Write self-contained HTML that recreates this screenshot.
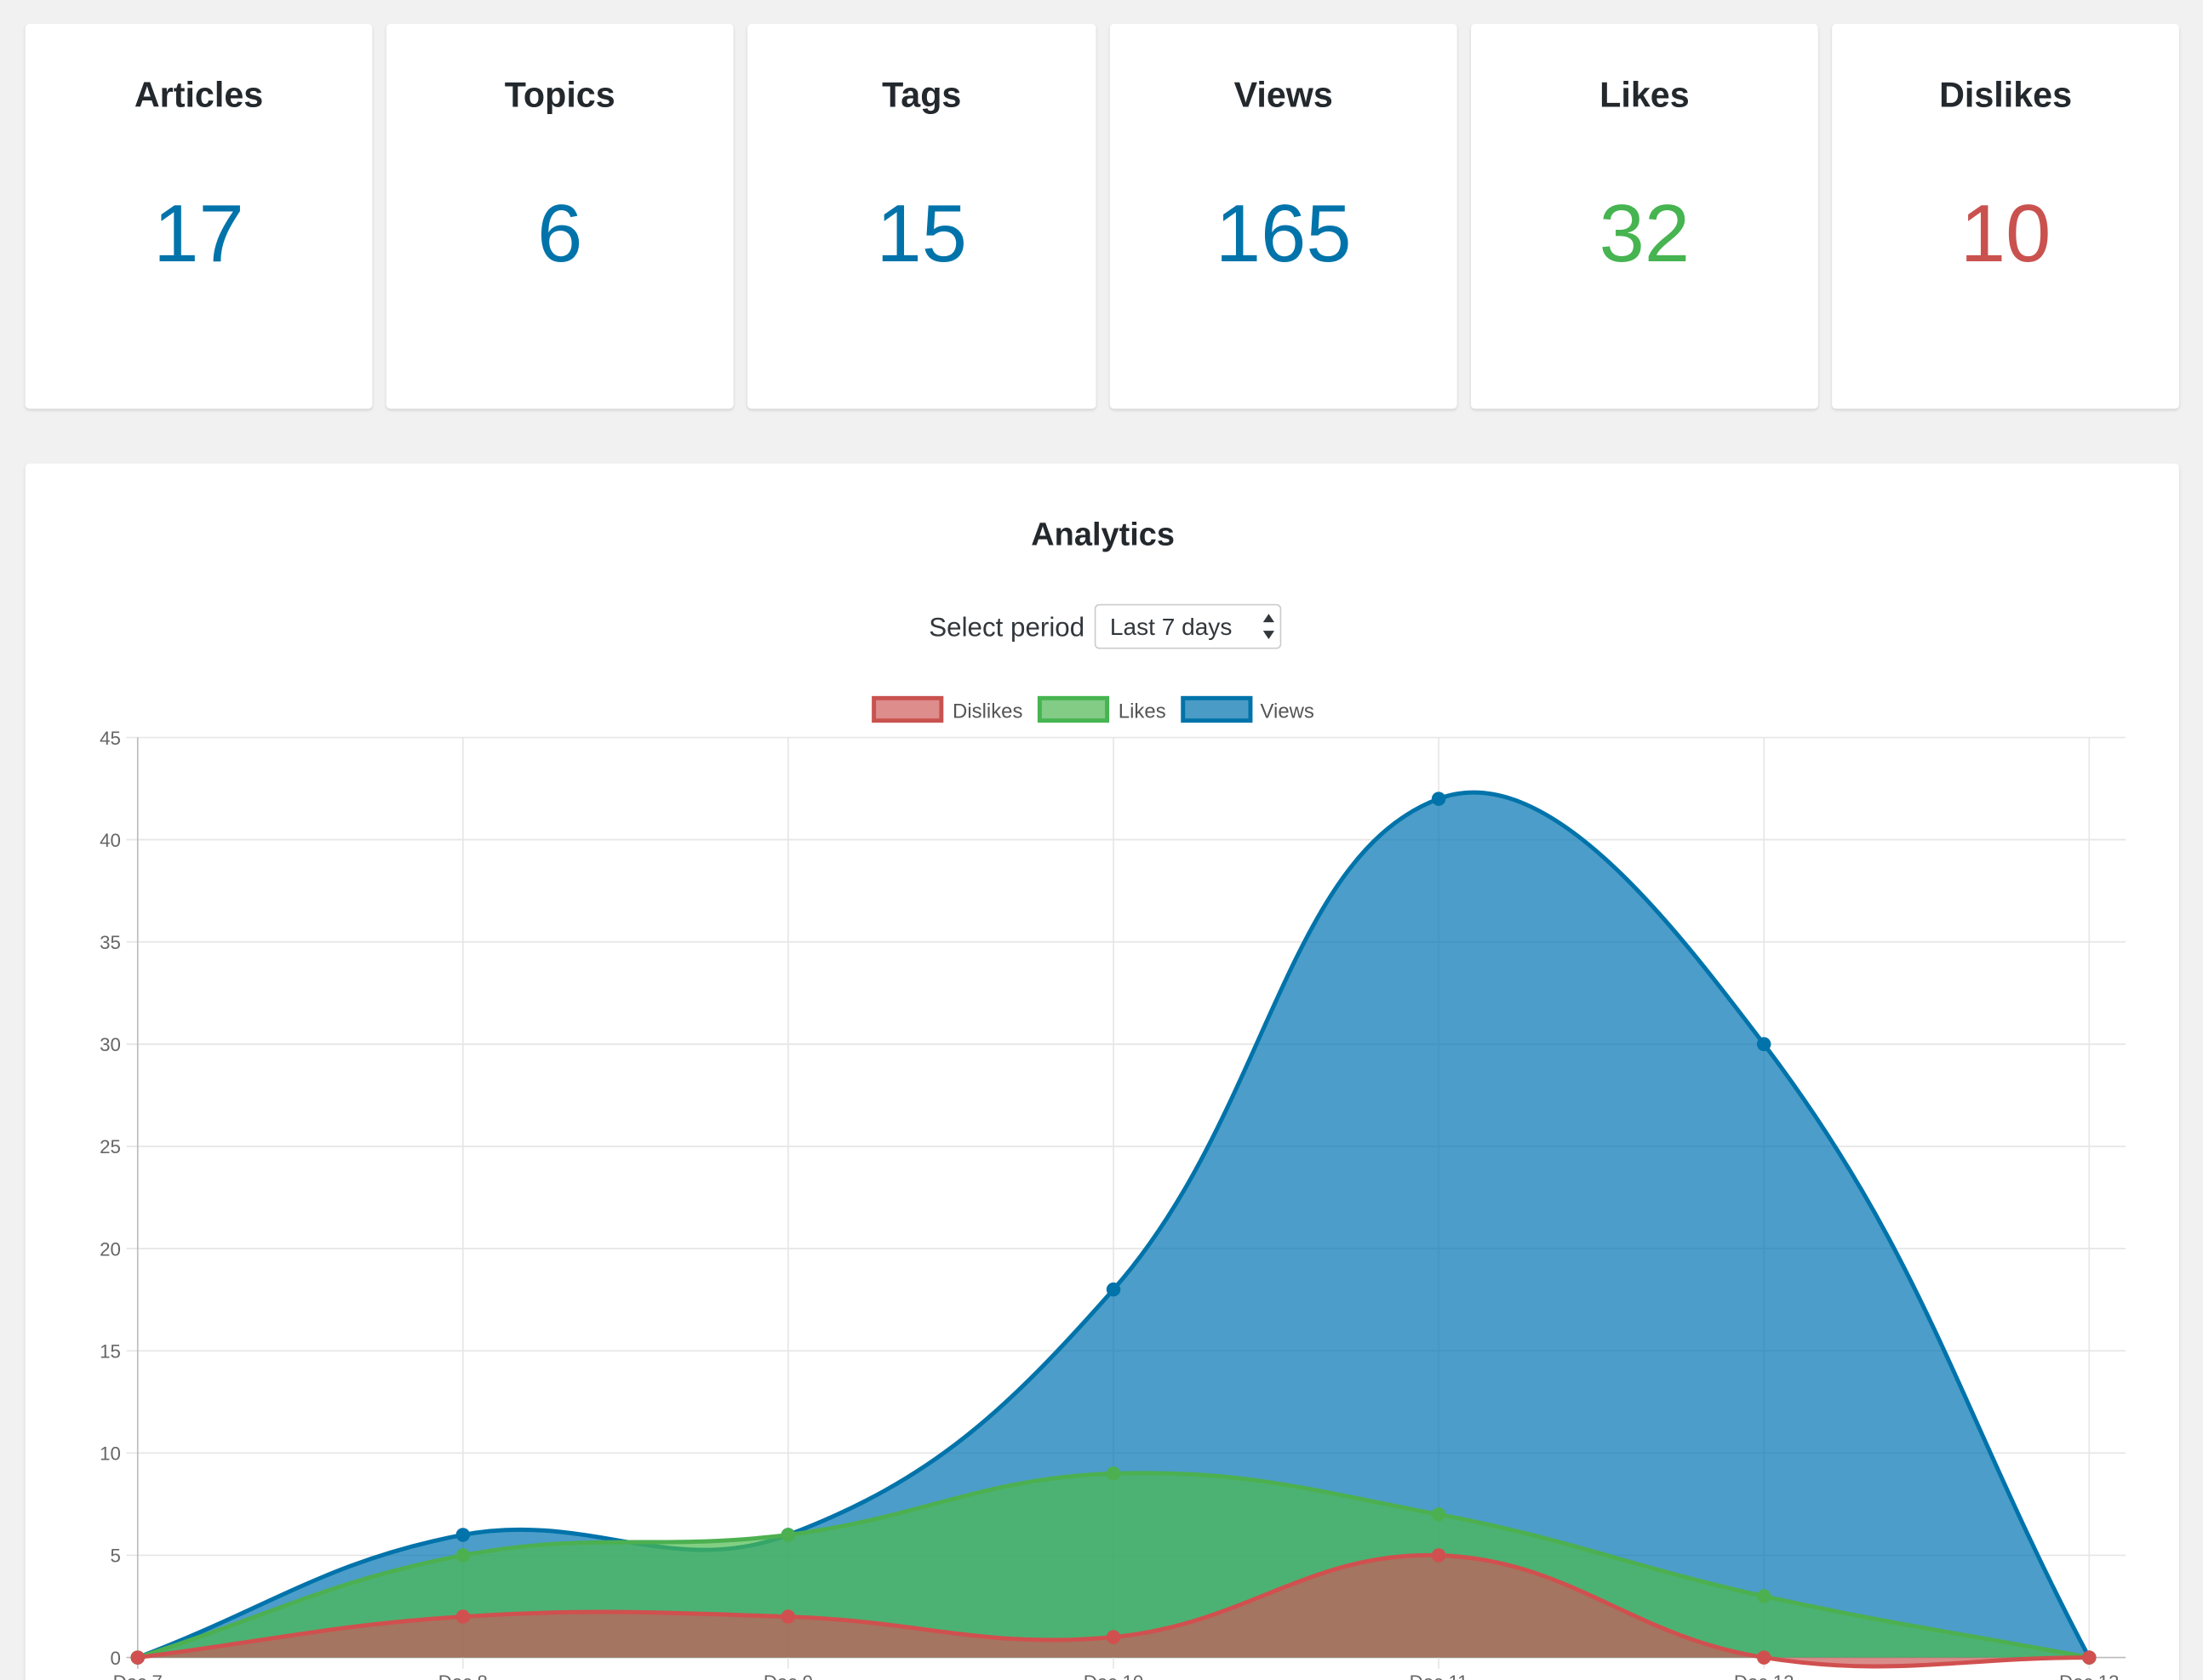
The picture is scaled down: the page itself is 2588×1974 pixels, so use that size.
<!DOCTYPE html>
<html><head><meta charset="utf-8"><style>
html,body{margin:0;padding:0;background:#f1f1f1;}
svg{display:block;font-family:"Liberation Sans",Arial,sans-serif;}
</style></head><body>
<svg id="root" width="2588" height="1974" viewBox="0 0 1568 1196" xmlns="http://www.w3.org/2000/svg">
<defs><filter id="sh" x="-5%" y="-5%" width="110%" height="110%"><feDropShadow dx="0" dy="1" stdDeviation="1" flood-color="#000" flood-opacity="0.15"/></filter></defs>
<rect x="0" y="0" width="1568" height="1196" fill="#f1f1f1"/>
<g><rect x="18" y="17" width="247" height="274" rx="3" fill="#fff" filter="url(#sh)"/><text x="141.5" y="76" text-anchor="middle" font-size="25" font-weight="bold" fill="#23282d">Articles</text><text x="141.5" y="186" text-anchor="middle" font-size="58" fill="#0073aa">17</text></g>
<g><rect x="275" y="17" width="247" height="274" rx="3" fill="#fff" filter="url(#sh)"/><text x="398.5" y="76" text-anchor="middle" font-size="25" font-weight="bold" fill="#23282d">Topics</text><text x="398.5" y="186" text-anchor="middle" font-size="58" fill="#0073aa">6</text></g>
<g><rect x="532" y="17" width="248" height="274" rx="3" fill="#fff" filter="url(#sh)"/><text x="656" y="76" text-anchor="middle" font-size="25" font-weight="bold" fill="#23282d">Tags</text><text x="656" y="186" text-anchor="middle" font-size="58" fill="#0073aa">15</text></g>
<g><rect x="790" y="17" width="247" height="274" rx="3" fill="#fff" filter="url(#sh)"/><text x="913.5" y="76" text-anchor="middle" font-size="25" font-weight="bold" fill="#23282d">Views</text><text x="913.5" y="186" text-anchor="middle" font-size="58" fill="#0073aa">165</text></g>
<g><rect x="1047" y="17" width="247" height="274" rx="3" fill="#fff" filter="url(#sh)"/><text x="1170.5" y="76" text-anchor="middle" font-size="25" font-weight="bold" fill="#23282d">Likes</text><text x="1170.5" y="186" text-anchor="middle" font-size="58" fill="#46b450">32</text></g>
<g><rect x="1304" y="17" width="247" height="274" rx="3" fill="#fff" filter="url(#sh)"/><text x="1427.5" y="76" text-anchor="middle" font-size="25" font-weight="bold" fill="#23282d">Dislikes</text><text x="1427.5" y="186" text-anchor="middle" font-size="58" fill="#c9524f">10</text></g>
<rect x="18" y="330" width="1533" height="900" rx="3" fill="#fff" filter="url(#sh)"/>
<text x="785" y="388" text-anchor="middle" font-size="23" font-weight="bold" fill="#23282d">Analytics</text>
<text x="772" y="453" text-anchor="end" font-size="19" fill="#32373c">Select period</text>
<g><rect x="779.5" y="430.5" width="132" height="31" rx="3" fill="#fff" stroke="#ccc"/><text x="790" y="452" font-size="17" fill="#32373c">Last 7 days</text><path d="M899 443 L903 437 L907 443 Z M899 449 L903 455 L907 449 Z" fill="#32373c"/></g>
<g>
<g><rect x="622" y="497" width="48" height="16" fill="#dc8d8c" stroke="#c9524f" stroke-width="3"/><text x="678" y="511" font-size="14.5" fill="#555">Dislikes</text></g>
<g><rect x="740" y="497" width="48" height="16" fill="#82cc86" stroke="#46b450" stroke-width="3"/><text x="796" y="511" font-size="14.5" fill="#555">Likes</text></g>
<g><rect x="842" y="497" width="48" height="16" fill="#4a9cc6" stroke="#0073aa" stroke-width="3"/><text x="897" y="511" font-size="14.5" fill="#555">Views</text></g>
</g>
<g id="chart"></g>
</svg>
<script>
const categories = ["Dec 7","Dec 8","Dec 9","Dec 10","Dec 11","Dec 12","Dec 13"];
const viewsData = [0,6,6,18,42,30,0];
const likesData = [0,5,6,9,7,3,0];
const dislikesData = [0,2,2,1,5,0,0];
const yTicks = [0,5,10,15,20,25,30,35,40,45];

const NS="http://www.w3.org/2000/svg";
const g=document.getElementById('chart');
const X0=98,X1=1487,XR=1513,Y0=1180,Y1=525,YMAX=45;
function xs(i){return X0+(X1-X0)*i/(categories.length-1);}
function ys(v){return Y0-(Y0-Y1)*v/YMAX;}
function mk(tag,attrs){const e=document.createElementNS(NS,tag);for(const k in attrs)e.setAttribute(k,attrs[k]);g.appendChild(e);return e;}
yTicks.forEach(t=>{
 const l=mk('line',{x1:X0-8,x2:XR,y1:ys(t),y2:ys(t),stroke:t===0?'#bbb':'#e6e6e6','stroke-width':1});
 
 
 const tx=mk('text',{x:X0-12,y:ys(t)+5,'text-anchor':'end','font-size':13.5,fill:'#666'});
 tx.textContent=t;
 
 
});
categories.forEach((c,i)=>{
 const l=mk('line',{x1:xs(i),x2:xs(i),y1:Y1,y2:Y0+8,stroke:i===0?'#bbb':'#e6e6e6','stroke-width':1});
 
 
 const tx=mk('text',{x:xs(i),y:Y0+22,'text-anchor':'middle','font-size':13.5,fill:'#666'});
 tx.textContent=c;
 
 
});
function pathFor(data){
 const p=data.map((v,i)=>({x:xs(i),y:ys(v)}));const t=0.4;const cps=[];
 for(let i=0;i<p.length;i++){
  const prev=p[Math.max(0,i-1)],cur=p[i],next=p[Math.min(p.length-1,i+1)];
  const d01=Math.hypot(cur.x-prev.x,cur.y-prev.y),d12=Math.hypot(next.x-cur.x,next.y-cur.y);
  let s01=d01/(d01+d12)||0,s12=d12/(d01+d12)||0;
  const fa=t*s01,fb=t*s12;
  cps.push({p:{x:cur.x-fa*(next.x-prev.x),y:cur.y-fa*(next.y-prev.y)},n:{x:cur.x+fb*(next.x-prev.x),y:cur.y+fb*(next.y-prev.y)}});
 }
 let d=`M${p[0].x},${p[0].y}`;
 for(let i=1;i<p.length;i++)d+=` C${cps[i-1].n.x},${cps[i-1].n.y} ${cps[i].p.x},${cps[i].p.y} ${p[i].x},${p[i].y}`;
 return {d,p};
}
function series(data,fill,stroke,name){
 const r=pathFor(data);
 const a=mk('path',{d:r.d+` L${xs(data.length-1)},${Y0} L${X0},${Y0} Z`,fill:fill,stroke:'none'});
 
 
 const l=mk('path',{d:r.d,fill:'none',stroke:stroke,'stroke-width':3});
 
 
 r.p.forEach(pt=>{
  const c=mk('circle',{cx:pt.x,cy:pt.y,r:5,fill:stroke});
  
  
 });
}
series(viewsData,'rgba(0,115,178,0.7)','#0073aa','views');
series(likesData,'rgba(77,187,78,0.7)','#4cb050','likes');
series(dislikesData,'rgba(203,91,88,0.7)','#d0504f','dislikes');
</script>
</body></html>
